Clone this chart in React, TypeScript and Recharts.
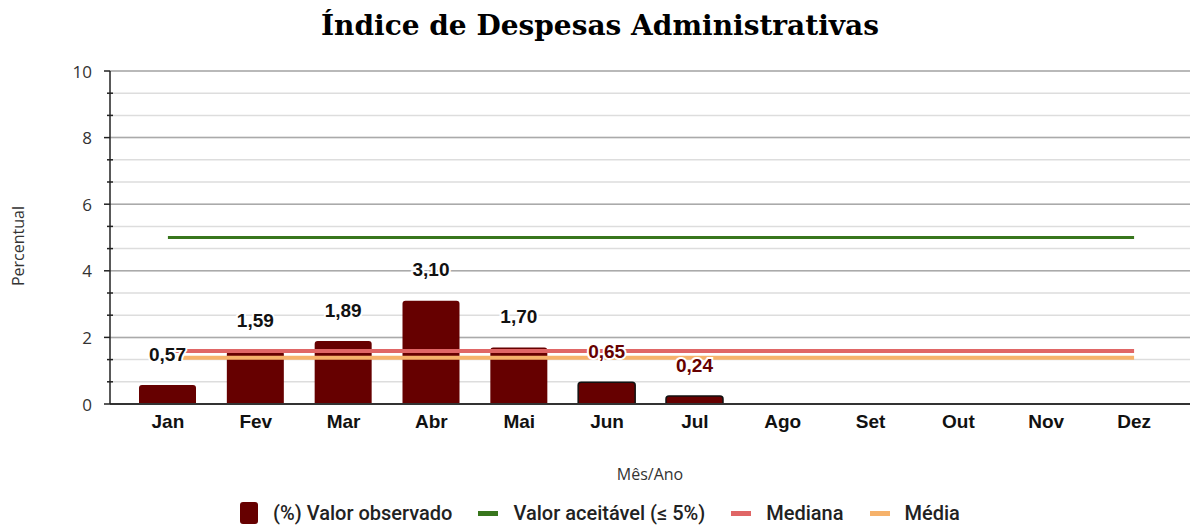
import {
  Bar,
  CartesianGrid,
  Cell,
  ComposedChart,
  LabelList,
  Line,
  XAxis,
  YAxis,
} from 'recharts';

const months = ['Jan', 'Fev', 'Mar', 'Abr', 'Mai', 'Jun', 'Jul', 'Ago', 'Set', 'Out', 'Nov', 'Dez'];
const observed: (number | null)[] = [0.57, 1.59, 1.89, 3.1, 1.7, 0.65, 0.24, null, null, null, null, null];
const acceptable = 5;
const median = 1.59;
const mean = 1.39;
const majorTicks = [0, 2, 4, 6, 8, 10];
const minorTicks = [0, 2 / 3, 4 / 3, 2, 8 / 3, 10 / 3, 4, 14 / 3, 16 / 3, 6, 20 / 3, 22 / 3, 8, 26 / 3, 28 / 3, 10];
// Jun/Jul are drawn with an outline and red labels
const highlighted = ['Jun', 'Jul'];

const BAR = '#660000';
const GREEN = '#38761d';
const RED = '#e06666';
const ORANGE = '#f6b26b';

const data = months.map((m, i) => ({
  month: m,
  value: observed[i],
  acceptable,
  median,
  mean,
}));

const fmt = (v: number) => v.toFixed(2).replace('.', ',');

function BarLabel(props: any) {
  const { x, y, width, value, index } = props;
  if (value == null) return null;
  const red = highlighted.includes(months[index]);
  return (
    <text
      x={x + width / 2}
      y={y - 31}
      textAnchor="middle"
      dominantBaseline="central"
      fontFamily='"Liberation Sans", Arial'
      fontWeight={700}
      fontSize={19}
      fill={red ? BAR : '#111'}
      stroke="#fff"
      strokeWidth={4}
      paintOrder="stroke"
    >
      {fmt(value)}
    </text>
  );
}

function YTick(props: any) {
  const { x, y, payload } = props;
  const v = payload.value;
  const isMajor = majorTicks.some((t) => Math.abs(t - v) < 1e-6);
  return (
    <g>
      <line x1={isMajor ? 104 : 107} x2={isMajor ? 110 : 113} y1={y} y2={y} stroke="#222" strokeWidth={1.5} />
      {isMajor && (
        <text x={x} y={y} textAnchor="end" dominantBaseline="central" fontFamily='"Open Sans"' fontSize={17} fill="#333">
          {Math.round(v)}
        </text>
      )}
    </g>
  );
}

const legendItems = [
  { label: '(%) Valor observado', color: BAR, kind: 'box' },
  { label: 'Valor aceitável (≤ 5%)', color: GREEN, kind: 'line' },
  { label: 'Mediana', color: RED, kind: 'line' },
  { label: 'Média', color: ORANGE, kind: 'line' },
];

export default function App() {
  return (
    <div
      style={{
        position: 'fixed',
        top: 0,
        left: 0,
        width: 1194,
        height: 526,
        overflow: 'hidden',
        background: '#fff',
        fontFamily: 'Roboto',
      }}
    >
      <div
        style={{
          position: 'absolute',
          top: 12,
          left: 0,
          width: 1194,
          paddingLeft: 6,
          boxSizing: 'border-box',
          textAlign: 'center',
          fontFamily: '"DejaVu Serif", serif',
          fontWeight: 700,
          fontSize: 28,
          lineHeight: '28px',
          color: '#000',
        }}
      >
        Índice de Despesas Administrativas
      </div>
      <div
        style={{
          position: 'absolute',
          left: 18,
          top: 246,
          transform: 'translate(-50%, -50%) rotate(-90deg)',
          fontFamily: '"Open Sans"',
          fontSize: 16,
          color: '#333',
          whiteSpace: 'nowrap',
        }}
      >
        Percentual
      </div>
      <div
        style={{
          position: 'absolute',
          left: 550,
          width: 200,
          top: 463,
          textAlign: 'center',
          fontFamily: '"Open Sans"',
          fontSize: 16,
          color: '#333',
        }}
      >
        Mês/Ano
      </div>
      <ComposedChart width={1194} height={526} data={data} margin={{ top: 71, right: 4, bottom: 92, left: 0 }}>
        <CartesianGrid horizontalValues={minorTicks} vertical={false} stroke="#dddddd" strokeWidth={1.5} />
        <CartesianGrid horizontalValues={majorTicks.slice(1)} vertical={false} stroke="#aaaaaa" strokeWidth={1.5} />
        <XAxis
          dataKey="month"
          axisLine={{ stroke: '#333', strokeWidth: 2 }}
          tickLine={false}
          tickSize={0}
          tickMargin={11}
          height={30}
          padding={{ left: 14, right: 12 }}
          tick={{ fontFamily: '"Liberation Sans", Arial', fontWeight: 700, fontSize: 19, fill: '#111' }}
        />
        <YAxis
          domain={[0, 10]}
          ticks={minorTicks}
          interval={0}
          width={110}
          axisLine={{ stroke: '#222', strokeWidth: 1.5 }}
          tickLine={false}
          tickSize={6}
          tickMargin={12}
          tick={<YTick />}
        />
        <Bar dataKey="value" barSize={57} radius={[3, 3, 0, 0]} isAnimationActive={false}>
          {data.map((d) => (
            <Cell
              key={d.month}
              fill={BAR}
              stroke={highlighted.includes(d.month) ? '#111' : 'none'}
              strokeWidth={1.5}
            />
          ))}
          <LabelList dataKey="value" content={<BarLabel />} />
        </Bar>
        <Line dataKey="acceptable" stroke={GREEN} strokeWidth={3} dot={false} activeDot={false} isAnimationActive={false} />
        <Line dataKey="median" stroke={RED} strokeWidth={4} dot={false} activeDot={false} isAnimationActive={false} />
        <Line dataKey="mean" stroke={ORANGE} strokeWidth={4} dot={false} activeDot={false} isAnimationActive={false} />
      </ComposedChart>
      <div
        style={{
          position: 'absolute',
          top: 500,
          left: 0,
          width: 1194,
          paddingLeft: 6,
          boxSizing: 'border-box',
          height: 26,
          display: 'flex',
          justifyContent: 'center',
          alignItems: 'center',
          gap: 26,
          fontSize: 20,
          fontWeight: 500,
          lineHeight: '26px',
          color: '#222',
        }}
      >
        {legendItems.map((it) => (
          <div key={it.label} style={{ display: 'flex', alignItems: 'center', gap: 15 }}>
            {it.kind === 'box' ? (
              <span style={{ width: 18, height: 22, background: it.color, borderRadius: 3, display: 'inline-block' }} />
            ) : (
              <span style={{ width: 20, height: 5, background: it.color, display: 'inline-block' }} />
            )}
            <span>{it.label}</span>
          </div>
        ))}
      </div>
    </div>
  );
}
